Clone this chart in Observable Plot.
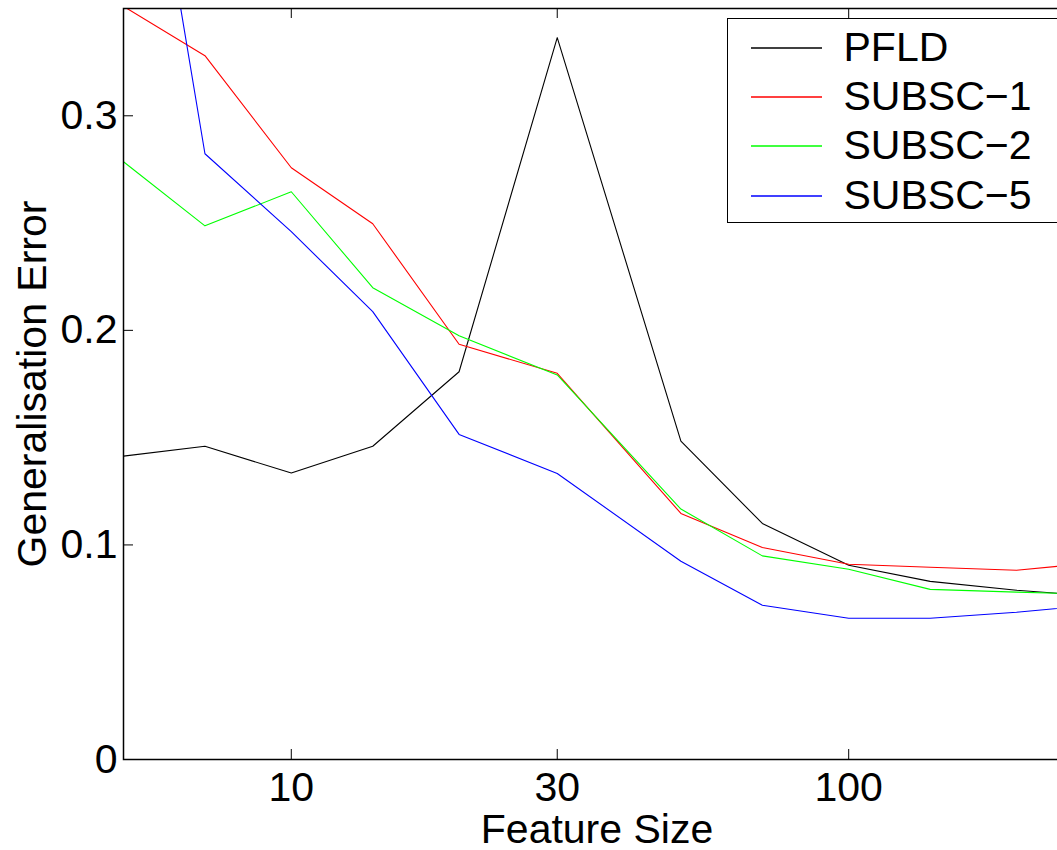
<!DOCTYPE html>
<html><head><meta charset="utf-8">
<script src="https://cdn.jsdelivr.net/npm/d3@7"></script>
<script src="https://cdn.jsdelivr.net/npm/@observablehq/plot@0.6"></script>
<style>
html,body{margin:0;padding:0;background:#fff;overflow:hidden}
#wrap{position:relative;width:1057px;height:850px;overflow:hidden}
#chart{position:absolute;left:0;top:0;width:1070px}
#chart svg{max-width:none !important;width:1070px;height:850px}
#legend{position:absolute;left:727px;top:18px;width:360px;height:205px;border:1.5px solid #000;background:#fff;box-sizing:border-box;font-family:"Liberation Sans",Arial,Helvetica,sans-serif;font-size:41px;color:#000}
.row{position:absolute;left:0;height:49px;display:flex;align-items:center;white-space:nowrap}
.sw{display:block;margin-left:22.5px;margin-right:22px}
</style></head>
<body><div id="wrap"><div id="chart"></div><div id="legend"></div></div>
<script>
const featureSize = [5, 7, 10, 14, 20, 30, 50, 70, 100, 140, 200, 250];
const pfld   = [0.1414, 0.146, 0.1335, 0.146, 0.1807, 0.3364, 0.1484, 0.110, 0.0905, 0.083, 0.0789, 0.077];
const subsc1 = [0.351, 0.328, 0.2758, 0.2497, 0.1935, 0.180, 0.1147, 0.0988, 0.091, 0.0896, 0.0882, 0.0906];
const subsc2 = [0.2786, 0.2487, 0.2646, 0.2199, 0.1975, 0.1792, 0.1167, 0.0949, 0.0887, 0.0793, 0.078, 0.0773];
const subsc5 = [0.51, 0.2823, 0.246, 0.2087, 0.1515, 0.1333, 0.0924, 0.0719, 0.0658, 0.0658, 0.0686, 0.071];
const seriesNames = ["PFLD", "SUBSC\u22121", "SUBSC\u22122", "SUBSC\u22125"];
const seriesColors = ["#000000", "#ff0000", "#00ff00", "#0000ff"];
const seriesValues = [pfld, subsc1, subsc2, subsc5];
const xTicks = [10, 30, 100];
const yTicks = [0, 0.1, 0.2, 0.3];

const rows = seriesNames.flatMap((name, i) => featureSize.map((x, j) => ({series: name, x, y: seriesValues[i][j]})));

const W = 1070, H = 850, mL = 123, mT = 8, mB = 91, mR = 0;
const plotW = W - mL - mR, plotH = H - mT - mB;
const font = '"Liberation Sans", Arial, Helvetica, sans-serif';

const chart = Plot.plot({
  width: W, height: H,
  marginLeft: mL, marginTop: mT, marginBottom: mB, marginRight: mR,
  style: {fontFamily: font, fontSize: "41px", color: "#000", background: "#fff", overflow: "visible"},
  x: {type: "log", domain: [5, 250]},
  y: {domain: [0, 0.35]},
  color: {domain: seriesNames, range: seriesColors},
  marks: [
    Plot.line(rows, {x: "x", y: "y", z: "series", stroke: "series", strokeWidth: 1.1, clip: true}),
    Plot.tickX(xTicks, {x: d => d, insetTop: plotH - 10, stroke: "#000"}),
    Plot.tickX(xTicks, {x: d => d, insetBottom: plotH - 10, stroke: "#000"}),
    Plot.tickY(yTicks, {y: d => d, insetRight: plotW - 10, stroke: "#000"}),
    Plot.tickY(yTicks, {y: d => d, insetLeft: plotW - 10, stroke: "#000"}),
    Plot.frame({stroke: "#000", strokeWidth: 1.5}),
    Plot.axisX({ticks: xTicks, tickFormat: d => String(d), tickSize: 0, tickPadding: 12,
      label: "Feature Size", labelAnchor: "center", labelArrow: "none", labelOffset: 83}),
    Plot.axisY({ticks: yTicks, tickFormat: d => d === 0 ? "0" : d3.format(".1f")(d), tickSize: 0, tickPadding: 6,
      label: "Generalisation Error", labelAnchor: "center", labelArrow: "none", labelOffset: 107})
  ]
});
document.getElementById("chart").appendChild(chart);

const legend = document.getElementById("legend");
const rowCenters = [30, 79, 128, 178];
const svgNS = "http://www.w3.org/2000/svg";
seriesNames.forEach((name, i) => {
  const r = document.createElement("div");
  r.className = "row";
  r.style.top = (rowCenters[i] - 24.5 - 1.5) + "px";
  const sw = document.createElementNS(svgNS, "svg");
  sw.setAttribute("class", "sw");
  sw.setAttribute("width", "71");
  sw.setAttribute("height", "6");
  const ln = document.createElementNS(svgNS, "line");
  ln.setAttribute("x1", "0"); ln.setAttribute("x2", "71");
  ln.setAttribute("y1", "3"); ln.setAttribute("y2", "3");
  ln.setAttribute("stroke", seriesColors[i]);
  ln.setAttribute("stroke-width", "1.3");
  sw.appendChild(ln);
  const t = document.createElement("span");
  t.textContent = name;
  r.appendChild(sw); r.appendChild(t);
  legend.appendChild(r);
});
</script>
</body></html>
